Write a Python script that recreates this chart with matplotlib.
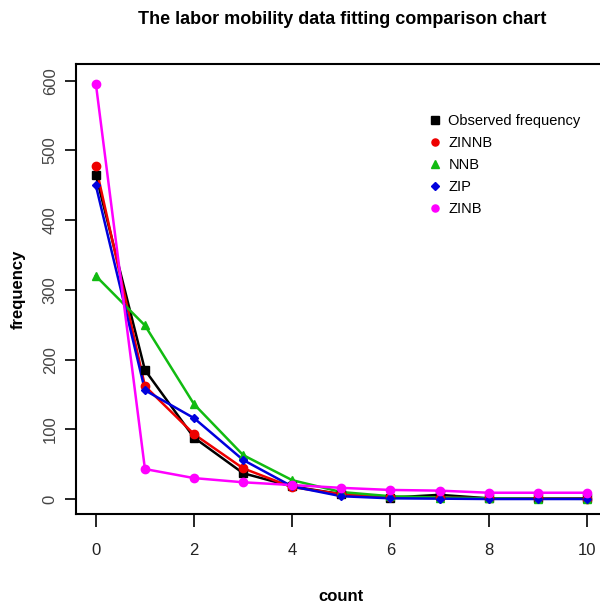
import matplotlib
matplotlib.use("Agg")
import matplotlib.pyplot as plt

counts = [0, 1, 2, 3, 4, 5, 6, 7, 8, 9, 10]
observed = [465, 185, 88, 37, 18, 7, 2, 6, 1, 1, 1]
zinnb = [477, 162, 93, 44, 17, 7, 3, 2, 1, 1, 0.5]
nnb = [320, 249, 136, 63, 27, 10, 4, 2, 1, 0.5, 0.3]
zip_ = [450, 156, 116, 56, 18, 4, 1, 0.5, 0, 0, 0]
zinb = [596, 43, 30, 24, 20, 16, 13, 12, 9, 9, 9]
series_names = ["Observed frequency", "ZINNB", "NNB", "ZIP", "ZINB"]
x_ticks = [0, 2, 4, 6, 8, 10]
y_ticks = [0, 100, 200, 300, 400, 500, 600]

plt.rcParams["font.family"] = ["Liberation Sans", "DejaVu Sans"]

fig = plt.figure(figsize=(6.0, 6.05), dpi=100)
ax = fig.add_axes([75.7 / 600, 91 / 605, (607 - 75.7) / 600, (541 - 91) / 605])

styles = [
    (observed, "black", "s"),
    (zinnb, "#ee0000", "o"),
    (nnb, "#11bb11", "^"),
    (zip_, "#0000dd", "D"),
    (zinb, "#ff00ff", "o"),
]
handles = []
for (vals, col, mk), name in zip(styles, series_names):
    ms = 6 if mk != "D" else 4.5
    ax.plot(counts, vals, color=col, lw=1.8, zorder=2)
    ax.plot(counts, vals, ls="none", marker=mk, color=col, ms=ms, zorder=3)
    h, = ax.plot([], [], ls="none", marker=mk, color=col, ms=ms * 0.85, label=name)
    handles.append(h)

ax.set_xlim(-0.41, 10.41)
ax.set_ylim(-21.5, 624)
ax.set_xticks(x_ticks)
ax.set_yticks(y_ticks)
ax.set_xticklabels([str(v) for v in x_ticks], fontsize=12, color="#222222")
ax.set_yticklabels([str(v) for v in y_ticks], fontsize=12, color="#444444",
                   rotation=90, va="center")
ax.tick_params(axis="x", length=9, width=1.2, direction="out", pad=12)
ax.tick_params(axis="y", length=8, width=1.2, direction="out", pad=5)
for s in ax.spines.values():
    s.set_linewidth(1.5)

ax.set_xlabel("count", fontsize=12, fontweight="bold", labelpad=22)
ax.set_ylabel("frequency", fontsize=12, fontweight="bold", labelpad=12)
fig.text(342 / 600, 1 - 20 / 605, "The labor mobility data fitting comparison chart",
         ha="center", va="center", fontsize=13, fontweight="bold")

leg = ax.legend(handles=handles, loc="upper left", bbox_to_anchor=(0.655, 0.905),
                frameon=False, fontsize=10.5, handlelength=0.6, handletextpad=0.6,
                labelspacing=0.55, borderpad=0)

fig.savefig("out.png", dpi=100)
